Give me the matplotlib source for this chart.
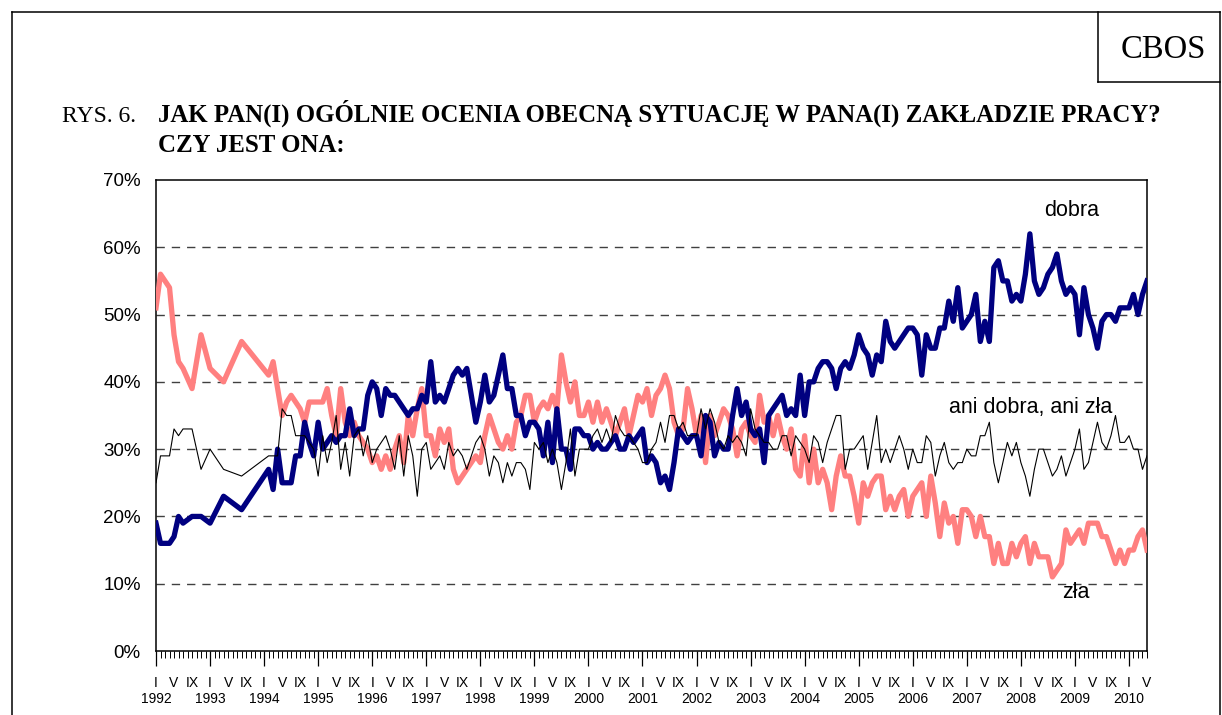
import matplotlib
matplotlib.use("Agg")
import matplotlib.pyplot as plt
from matplotlib.lines import Line2D

# survey months, counted from January 1992 (0) to May 2010 (220)
months = [0, 1, 2, 3, 4, 5, 6, 8, 10, 12, 15, 19] + list(range(25, 221))

dobra = [19, 16, 16, 16, 17, 20, 19, 20, 20, 19, 23, 21,
         27, 24, 30, 25, 25, 25, 29, 29, 34, 31, 29, 34,
         30, 31, 32, 31, 32, 32, 36, 32, 33, 33, 38, 40,
         39, 35, 39, 38, 38, 37, 36, 35, 36, 36, 38, 37,
         43, 37, 38, 37, 39, 41, 42, 41, 42, 38, 34, 37,
         41, 37, 38, 41, 44, 39, 39, 35, 35, 32, 34, 34,
         33, 29, 34, 28, 36, 30, 30, 27, 33, 33, 32, 32,
         30, 31, 30, 30, 31, 32, 30, 30, 32, 31, 32, 33,
         28, 29, 28, 25, 26, 24, 28, 33, 32, 31, 32, 32,
         29, 35, 34, 29, 31, 30, 30, 35, 39, 35, 37, 33,
         32, 33, 28, 35, 36, 37, 38, 35, 36, 35, 41, 35,
         40, 40, 42, 43, 43, 42, 39, 42, 43, 42, 44, 47,
         45, 44, 41, 44, 43, 49, 46, 45, 46, 47, 48, 48,
         47, 41, 47, 45, 45, 48, 48, 52, 49, 54, 48, 49,
         50, 53, 46, 49, 46, 57, 58, 55, 55, 52, 53, 52,
         56, 62, 55, 53, 54, 56, 57, 59, 55, 53, 54, 53,
         47, 54, 50, 48, 45, 49, 50, 50, 49, 51, 51, 51,
         53, 50, 53, 55]

zla = [51, 56, 55, 54, 47, 43, 42, 39, 47, 42, 40, 46,
       41, 43, 39, 35, 37, 38, 37, 36, 34, 37, 37, 37,
       37, 39, 35, 32, 39, 34, 32, 34, 32, 31, 30, 28,
       29, 27, 29, 27, 30, 32, 28, 35, 32, 36, 39, 32,
       32, 29, 33, 31, 33, 27, 25, 26, 27, 28, 29, 28,
       32, 35, 33, 31, 30, 32, 30, 34, 35, 38, 38, 34,
       36, 37, 36, 38, 36, 44, 40, 37, 40, 35, 35, 37,
       34, 37, 34, 36, 34, 32, 34, 36, 32, 35, 38, 37,
       39, 35, 38, 39, 41, 39, 34, 32, 33, 39, 36, 32,
       35, 28, 35, 32, 34, 36, 35, 33, 29, 33, 34, 32,
       31, 38, 34, 35, 32, 35, 32, 30, 33, 27, 26, 32,
       25, 30, 25, 27, 25, 21, 26, 29, 26, 26, 23, 19,
       25, 23, 25, 26, 26, 21, 23, 21, 23, 24, 20, 23,
       24, 25, 20, 26, 22, 17, 22, 19, 20, 16, 21, 21,
       20, 17, 20, 17, 17, 13, 16, 13, 13, 16, 14, 16,
       17, 13, 16, 14, 14, 14, 11, 12, 13, 18, 16, 17,
       18, 16, 19, 19, 19, 17, 17, 15, 13, 15, 13, 15,
       15, 17, 18, 15]

ani = [25, 29, 29, 29, 33, 32, 33, 33, 27, 30, 27, 26,
       29, 29, 29, 36, 35, 35, 32, 32, 32, 31, 30, 26,
       32, 28, 31, 35, 27, 31, 26, 32, 33, 29, 32, 28,
       30, 31, 32, 30, 27, 32, 26, 32, 29, 23, 30, 31,
       27, 28, 29, 27, 31, 29, 30, 29, 27, 29, 31, 32,
       30, 26, 29, 28, 25, 28, 26, 28, 28, 27, 24, 31,
       30, 31, 28, 30, 28, 24, 28, 33, 26, 30, 30, 30,
       32, 33, 31, 33, 31, 35, 33, 32, 32, 31, 30, 28,
       28, 30, 31, 34, 31, 35, 35, 33, 34, 32, 32, 32,
       36, 33, 36, 34, 31, 30, 32, 31, 32, 31, 29, 36,
       33, 32, 31, 31, 30, 30, 32, 32, 29, 32, 31, 30,
       28, 32, 31, 28, 31, 33, 35, 35, 27, 30, 30, 31,
       32, 27, 31, 35, 28, 30, 28, 30, 32, 30, 27, 30,
       28, 28, 32, 31, 26, 29, 31, 28, 27, 28, 28, 30,
       29, 29, 32, 32, 34, 28, 25, 28, 31, 29, 31, 28,
       26, 23, 27, 30, 30, 28, 26, 27, 29, 26, 28, 30,
       33, 27, 28, 31, 34, 31, 30, 32, 35, 31, 31, 32,
       30, 30, 27, 29]

years = list(range(1992, 2011))
month_labels = ["I", "V", "IX"]
yticks = [0, 10, 20, 30, 40, 50, 60, 70]

W, H = 1222, 715
SANS = "Liberation Sans"
SERIF = "Liberation Serif"

fig = plt.figure(figsize=(W / 100, H / 100), dpi=100)


def fx(px):
    return px / W


def fy(py):
    return 1 - py / H


# page frame and CBOS box
for xs, ys in [((12, 12), (12, 715)), ((12, 1220), (12, 12)), ((1220, 1220), (12, 715)),
               ((1098, 1098), (12, 82)), ((1098, 1220), (82, 82))]:
    fig.add_artist(Line2D([fx(x) for x in xs], [fy(y) for y in ys], color="black", lw=1.1))
fig.text(fx(1163), fy(58), "CBOS", family=SERIF, fontsize=23.5, ha="center", va="baseline")

fig.text(fx(62), fy(122), "RYS. 6.", family=SERIF, fontsize=17, va="baseline")
fig.text(fx(158), fy(122), "JAK PAN(I) OGÓLNIE OCENIA OBECNĄ SYTUACJĘ W PANA(I) ZAKŁADZIE PRACY?",
         family=SERIF, fontsize=17.9, fontweight="bold", va="baseline")
fig.text(fx(158), fy(152), "CZY JEST ONA:", family=SERIF, fontsize=17.9,
         fontweight="bold", va="baseline")

ax = fig.add_axes([fx(156), fy(651), fx(1147 - 156), (651 - 180) / H])
ax.plot(months, zla, color="#FF8080", lw=3.8, solid_joinstyle="round", zorder=3)
ax.plot(months, dobra, color="#000080", lw=3.8, solid_joinstyle="round", zorder=4)
ax.plot(months, ani, color="black", lw=0.8, zorder=5)

ax.set_xlim(0, 220)
ax.set_ylim(0, 70)
for v in yticks[1:-1]:
    ax.axhline(v, color="#404040", lw=1.0, linestyle=(0, (6, 5)), zorder=1)

ax.set_yticks(yticks)
ax.set_yticklabels([f"{v}%" for v in yticks], family=SANS, fontsize=13.5)
ax.tick_params(axis="y", length=0, pad=11)

ax.set_xticks(range(0, 221, 12))
ax.set_xticks(range(0, 221), minor=True)
ax.set_xticklabels([])
ax.tick_params(axis="x", which="major", length=11, width=0.9)
ax.tick_params(axis="x", which="minor", length=5, width=0.7)
for sp in ax.spines.values():
    sp.set_linewidth(1.1)

for i, yr in enumerate(years):
    for j, lab in enumerate(month_labels):
        m = i * 12 + j * 4
        if m <= 220:
            ax.annotate(lab, (m, 0), xycoords=("data", "axes fraction"), xytext=(0, -25.7),
                        textcoords="offset points", ha="center", va="baseline",
                        family=SANS, fontsize=10)
    ax.annotate(str(yr), (i * 12, 0), xycoords=("data", "axes fraction"), xytext=(0, -37.5),
                textcoords="offset points", ha="center", va="baseline",
                family=SANS, fontsize=10, annotation_clip=False)

ax.text(203.3, 64.6, "dobra", family=SANS, fontsize=15.5, ha="center", va="baseline")
ax.text(194.2, 35.4, "ani dobra, ani zła", family=SANS, fontsize=15.5, ha="center", va="baseline")
ax.text(204.2, 7.9, "zła", family=SANS, fontsize=15.5, ha="center", va="baseline")

fig.savefig("out.png", dpi=100)
